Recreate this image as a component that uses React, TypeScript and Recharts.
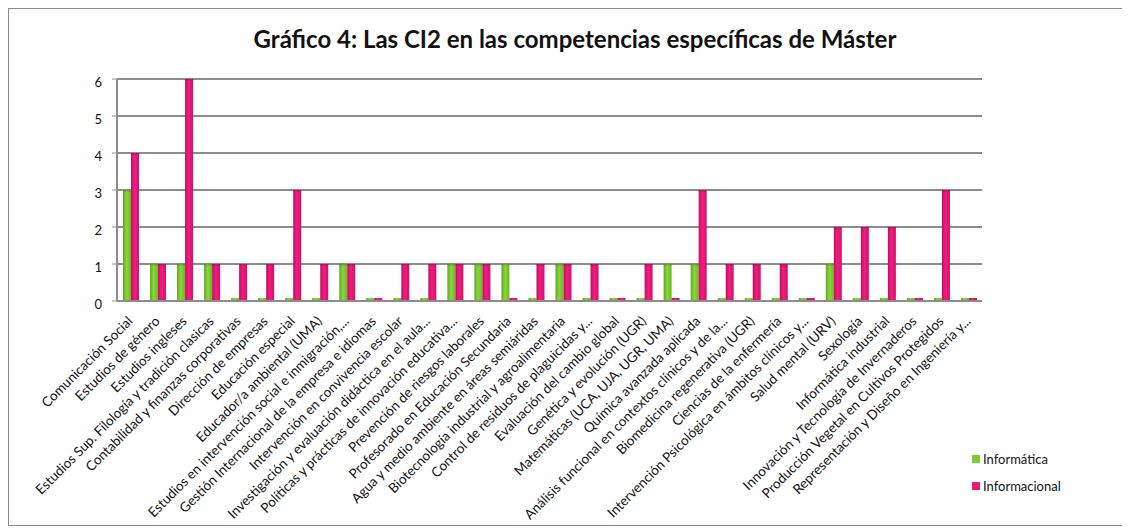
import { BarChart, Bar, XAxis, YAxis, CartesianGrid } from "recharts";

const CATEGORIES = [
  "Comunicación Social",
  "Estudios de género",
  "Estudios ingleses",
  "Estudios Sup. Filología y tradición clasicas",
  "Contabilidad y finanzas corporativas",
  "Dirección de empresas",
  "Educación especial",
  "Educador/a ambiental (UMA)",
  "Estudios en intervención social e inmigración,...",
  "Gestión Internacional de la empresa e idiomas",
  "Intervención en convivencia escolar",
  "Investigación y evaluación didáctica en el aula...",
  "Políticas y prácticas de innovación educativa...",
  "Prevención de riesgos laborales",
  "Profesorado en Educación Secundaria",
  "Agua y medio ambiente en áreas semiáridas",
  "Biotecnología industrial y agroalimentaria",
  "Control de residuos de plaguicidas y...",
  "Evaluación del cambio global",
  "Genética y evolución (UGR)",
  "Matemáticas (UCA, UJA, UGR, UMA)",
  "Química avanzada aplicada",
  "Análisis funcional en contextos clínicos y de la...",
  "Biomedicina regenerativa (UGR)",
  "Ciencias de la enfermería",
  "Intervención Psicológica en ámbitos clínicos y...",
  "Salud mental (URV)",
  "Sexología",
  "Informática industrial",
  "Innovación y Tecnología de Invernaderos",
  "Producción Vegetal en Cultivos Protegidos",
  "Representación y Diseño en Ingeniería y...",
];

const INFORMATICA = [3, 1, 1, 1, 0, 0, 0, 0, 1, 0, 0, 0, 1, 1, 1, 0, 1, 0, 0, 0, 1, 1, 0, 0, 0, 0, 1, 0, 0, 0, 0, 0];
const INFORMACIONAL = [4, 1, 6, 1, 1, 1, 3, 1, 1, 0, 1, 1, 1, 1, 0, 1, 1, 1, 0, 1, 0, 3, 1, 1, 1, 0, 2, 2, 2, 0, 3, 0];

const Y_TICKS = [0, 1, 2, 3, 4, 5, 6];

const GREEN = "#7ccc2e";
const PINK = "#ec1878";
const FONT = "Lato, 'Open Sans', sans-serif";

const data = CATEGORIES.map((name, i) => ({
  name,
  informatica: INFORMATICA[i],
  informacional: INFORMACIONAL[i],
}));

// 3D-ish column; zero values still get a little base stub like Excel
function Column(props: any) {
  const { x, y, width, height, gradId } = props;
  if (height <= 0.5) {
    return <rect x={x} y={y - 3} width={width} height={3} fill={`url(#${gradId})`} />;
  }
  return (
    <g>
      <rect x={x} y={y} width={width} height={height} fill={`url(#${gradId})`} />
      <rect x={x} y={y} width={width} height={1.5} fill="rgba(0,0,0,0.18)" />
    </g>
  );
}

function XTick(props: any) {
  const { x, y, payload } = props;
  return (
    <g transform={`translate(${x + 3},${y + 13})`}>
      <text
        x={0}
        y={0}
        textAnchor="end"
        transform="rotate(-45)"
        fontSize={13.5}
        fontFamily={FONT}
        fill="#111"
      >
        {payload.value}
      </text>
    </g>
  );
}

const LEGEND_ITEMS = [
  { label: "Informática", color: GREEN },
  { label: "Informacional", color: PINK },
];

export default function App() {
  return (
    <div
      style={{
        width: 1114,
        height: 516,
        border: "1px solid #8a8a8a",
        background: "#fff",
        position: "relative",
      }}
    >
      <BarChart
        width={1114}
        height={516}
        data={data}
        margin={{ top: 70, right: 141, left: 60, bottom: 0 }}
        barGap={0}
      >
        <defs>
          <linearGradient id="gGreen" x1="0" y1="0" x2="1" y2="0">
            <stop offset="0%" stopColor="#5fa81f" />
            <stop offset="45%" stopColor="#8ad63c" />
            <stop offset="100%" stopColor="#6cb826" />
          </linearGradient>
          <linearGradient id="gPink" x1="0" y1="0" x2="1" y2="0">
            <stop offset="0%" stopColor="#c01060" />
            <stop offset="45%" stopColor="#f21c80" />
            <stop offset="100%" stopColor="#d0126a" />
          </linearGradient>
        </defs>
        <text
          x={566}
          y={39}
          textAnchor="middle"
          fontSize={24}
          fontWeight="bold"
          fontFamily={FONT}
          fill="#111"
        >
          Gráfico 4: Las CI2 en las competencias específicas de Máster
        </text>
        <CartesianGrid vertical={false} stroke="#8c8c8c" strokeWidth={2} />
        <XAxis
          dataKey="name"
          interval={0}
          height={224}
          tick={<XTick />}
          tickLine={false}
          axisLine={{ stroke: "#8c8c8c", strokeWidth: 2 }}
        />
        <YAxis
          width={48}
          domain={[0, 6]}
          ticks={Y_TICKS}
          tick={{ fontSize: 13, fontFamily: FONT, fill: "#111", dy: 3 }}
          tickLine={{ stroke: "#8c8c8c" }}
          tickSize={5}
          tickMargin={10}
          axisLine={{ stroke: "#8c8c8c", strokeWidth: 2 }}
        />
        <Bar
          dataKey="informatica"
          name="Informática"
          fill={GREEN}
          barSize={8}
          isAnimationActive={false}
          shape={(p: any) => <Column {...p} gradId="gGreen" />}
        />
        <Bar
          dataKey="informacional"
          name="Informacional"
          fill={PINK}
          barSize={8}
          isAnimationActive={false}
          shape={(p: any) => <Column {...p} gradId="gPink" />}
        />
      </BarChart>
      <div
        style={{
          position: "absolute",
          left: 963,
          top: 436,
          fontFamily: FONT,
          fontSize: 13,
          color: "#111",
        }}
      >
        {LEGEND_ITEMS.map((it) => (
          <div key={it.label} style={{ display: "flex", alignItems: "center", height: 27 }}>
            <span style={{ width: 8, height: 8, background: it.color, marginRight: 3 }} />
            <span>{it.label}</span>
          </div>
        ))}
      </div>
    </div>
  );
}
